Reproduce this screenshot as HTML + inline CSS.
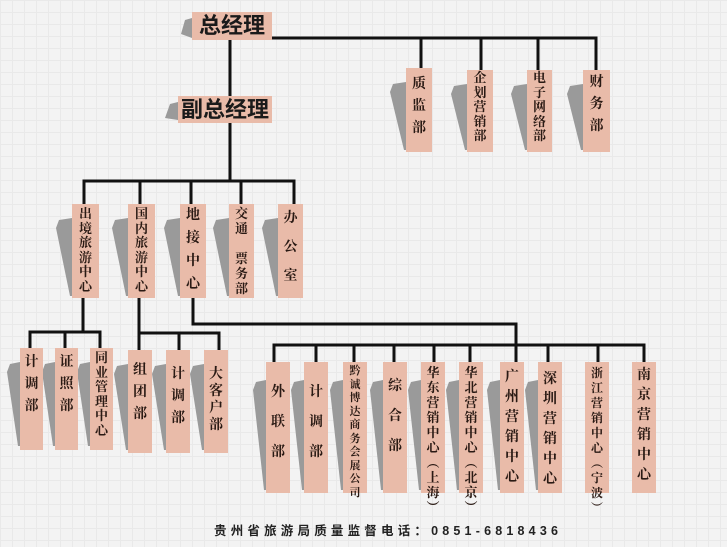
<!DOCTYPE html>
<html><head><meta charset="utf-8"><style>
html,body{margin:0;padding:0}
body{width:727px;height:547px;position:relative;overflow:hidden;background:#f3f3f3;
background-image:linear-gradient(#e9e9e9 1px,transparent 1px),linear-gradient(90deg,#e9e9e9 1px,transparent 1px);background-size:12px 12px;}
.b{position:absolute;background:#e9bba9;color:#2a1a14;font-family:"Liberation Serif","Noto Serif CJK SC",serif;font-weight:bold;text-align:center;box-sizing:border-box;padding-top:6px;word-break:break-all}
.t{position:absolute;background:#e9bba9;color:#1a1a1a;font-family:"Liberation Sans","Noto Sans CJK SC",sans-serif;font-weight:bold;font-size:22px;line-height:28px;text-align:center}
svg{position:absolute;left:0;top:0}
.f{position:absolute;left:214px;top:520px;font-family:"Liberation Sans","Noto Sans CJK SC",sans-serif;font-weight:bold;font-size:12.5px;letter-spacing:4.2px;color:#222;white-space:nowrap}
</style></head><body>
<svg width="727" height="547">
<g fill="#9a9a9a">
<polygon points="192,18 185,20 181,34 192,38"/>
<polygon points="178,102 170,104 165,118 178,120"/>
<polygon points="406,82 393,84 390,92 404,150 406,150"/>
<polygon points="467,84 454,86 451,94 465,150 467,150"/>
<polygon points="527,84 514,86 511,94 525,150 527,150"/>
<polygon points="583,84 570,86 567,94 581,150 583,150"/>
<polygon points="72,218 59,220 56,228 70,296 72,296"/>
<polygon points="128,218 115,220 112,228 126,296 128,296"/>
<polygon points="180,218 167,220 164,228 178,296 180,296"/>
<polygon points="229,218 216,220 213,228 227,296 229,296"/>
<polygon points="278,218 265,220 262,228 276,296 278,296"/>
<polygon points="20,362 10,364 7,372 18,446 20,446"/>
<polygon points="55,362 45,364 42,372 53,446 55,446"/>
<polygon points="90,362 80,364 77,372 88,446 90,446"/>
<polygon points="128,364 117,366 114,374 126,450 128,450"/>
<polygon points="166,364 155,366 152,374 164,450 166,450"/>
<polygon points="204,364 193,366 190,374 202,450 204,450"/>
<polygon points="266,380 256,382 253,390 264,490 266,490"/>
<polygon points="304,380 294,382 291,390 302,490 304,490"/>
<polygon points="343,380 333,382 330,390 341,490 343,490"/>
<polygon points="383,380 373,382 370,390 381,490 383,490"/>
<polygon points="421,380 411,382 408,390 419,490 421,490"/>
<polygon points="459,380 449,382 446,390 457,490 459,490"/>
<polygon points="500,380 490,382 487,390 498,490 500,490"/>
<polygon points="538,380 528,382 525,390 536,490 538,490"/>
</g>
<g stroke="#111" stroke-width="3" fill="none">
<polyline points="272,38 596,38 596,72"/>
<line x1="421" y1="38" x2="421" y2="70"/>
<line x1="481" y1="38" x2="481" y2="72"/>
<line x1="538" y1="38" x2="538" y2="72"/>
<line x1="230" y1="40" x2="230" y2="96"/>
<line x1="230" y1="122" x2="230" y2="181"/>
<polyline points="84,206 84,181 294,181 294,206"/>
<line x1="140" y1="181" x2="140" y2="206"/>
<line x1="191" y1="181" x2="191" y2="206"/>
<line x1="241" y1="181" x2="241" y2="206"/>
<line x1="83" y1="298" x2="83" y2="332"/>
<polyline points="30,352 30,332 100,332 100,352"/>
<line x1="65" y1="332" x2="65" y2="352"/>
<line x1="139" y1="298" x2="139" y2="354"/>
<polyline points="139,333 219,333 219,354"/>
<line x1="179" y1="333" x2="179" y2="354"/>
<polyline points="193,298 193,324 516,324 516,364"/>
<polyline points="274,364 274,345 644,345 644,364"/>
<line x1="316" y1="345" x2="316" y2="364"/>
<line x1="354" y1="345" x2="354" y2="364"/>
<line x1="394" y1="345" x2="394" y2="364"/>
<line x1="434" y1="345" x2="434" y2="364"/>
<line x1="470" y1="345" x2="470" y2="364"/>
<line x1="548" y1="345" x2="548" y2="364"/>
<line x1="598" y1="345" x2="598" y2="364"/>
</g>
</svg>
<div class="t" style="left:192px;top:12px;width:80px;height:28px">总经理</div>
<div class="t" style="left:178px;top:96px;width:94px;height:27px">副总经理</div>

<div class="b" style="left:406px;top:68px;width:26px;height:84px;font-size:14px;line-height:22px">质<br>监<br>部</div>
<div class="b" style="left:467px;top:70px;width:26px;height:82px;font-size:13px;line-height:14.5px;padding-top:1px">企<br>划<br>营<br>销<br>部</div>
<div class="b" style="left:527px;top:70px;width:25px;height:82px;font-size:13px;line-height:14.5px;padding-top:1px">电<br>子<br>网<br>络<br>部</div>
<div class="b" style="left:583px;top:70px;width:27px;height:82px;font-size:14px;line-height:22px;padding-top:2px">财<br>务<br>部</div>

<div class="b" style="left:72px;top:204px;width:27px;height:94px;font-size:13px;line-height:14.5px;padding-top:3px">出<br>境<br>旅<br>游<br>中<br>心</div>
<div class="b" style="left:128px;top:204px;width:27px;height:94px;font-size:13px;line-height:14.5px;padding-top:3px">国<br>内<br>旅<br>游<br>中<br>心</div>
<div class="b" style="left:180px;top:204px;width:26px;height:94px;font-size:14px;line-height:23px;padding-top:0">地<br>接<br>中<br>心</div>
<div class="b" style="left:229px;top:204px;width:25px;height:94px;font-size:13px;line-height:15px;padding-top:2px">交<br>通<br><br>票<br>务<br>部</div>
<div class="b" style="left:278px;top:204px;width:25px;height:94px;font-size:14px;line-height:29px;padding-top:0">办<br>公<br>室</div>

<div class="b" style="left:20px;top:348px;width:23px;height:102px;font-size:14px;line-height:22px;padding-top:4px">计<br>调<br>部</div>
<div class="b" style="left:55px;top:348px;width:23px;height:102px;font-size:14px;line-height:22px;padding-top:4px">证<br>照<br>部</div>
<div class="b" style="left:90px;top:348px;width:23px;height:102px;font-size:13px;line-height:14.5px;padding-top:3px">同<br>业<br>管<br>理<br>中<br>心</div>
<div class="b" style="left:128px;top:350px;width:24px;height:103px;font-size:14px;line-height:22px;padding-top:10px">组<br>团<br>部</div>
<div class="b" style="left:166px;top:350px;width:24px;height:103px;font-size:14px;line-height:22px;padding-top:14px">计<br>调<br>部</div>
<div class="b" style="left:204px;top:350px;width:24px;height:103px;font-size:14px;line-height:17px;padding-top:16px">大<br>客<br>户<br>部</div>

<div class="b" style="left:266px;top:362px;width:24px;height:131px;font-size:14px;line-height:30px;padding-top:16px">外<br>联<br>部</div>
<div class="b" style="left:304px;top:362px;width:24px;height:131px;font-size:14px;line-height:30px;padding-top:16px">计<br>调<br>部</div>
<div class="b" style="left:343px;top:362px;width:24px;height:131px;font-size:11px;line-height:13.5px;padding-top:3px">黔<br>诚<br>博<br>达<br>商<br>务<br>会<br>展<br>公<br>司</div>
<div class="b" style="left:383px;top:362px;width:24px;height:131px;font-size:14px;line-height:30px;padding-top:10px">综<br>合<br>部</div>
<div class="b" style="left:421px;top:362px;width:24px;height:131px;font-size:13px;line-height:15px;padding-top:3px">华<br>东<br>营<br>销<br>中<br>心<br>︵<br>上<br>海<br>︶</div>
<div class="b" style="left:459px;top:362px;width:24px;height:131px;font-size:13px;line-height:15px;padding-top:3px">华<br>北<br>营<br>销<br>中<br>心<br>︵<br>北<br>京<br>︶</div>
<div class="b" style="left:500px;top:362px;width:24px;height:131px;font-size:14px;line-height:20px;padding-top:6px">广<br>州<br>营<br>销<br>中<br>心</div>
<div class="b" style="left:538px;top:362px;width:24px;height:131px;font-size:14px;line-height:20px;padding-top:8px">深<br>圳<br>营<br>销<br>中<br>心</div>
<div class="b" style="left:585px;top:362px;width:24px;height:131px;font-size:12px;line-height:15px;padding-top:4px">浙<br>江<br>营<br>销<br>中<br>心<br>︵<br>宁<br>波<br>︶</div>
<div class="b" style="left:632px;top:362px;width:24px;height:131px;font-size:14px;line-height:20px;padding-top:4px">南<br>京<br>营<br>销<br>中<br>心</div>

<div class="f">贵州省旅游局质量监督电话：0851-6818436</div>
</body></html>
